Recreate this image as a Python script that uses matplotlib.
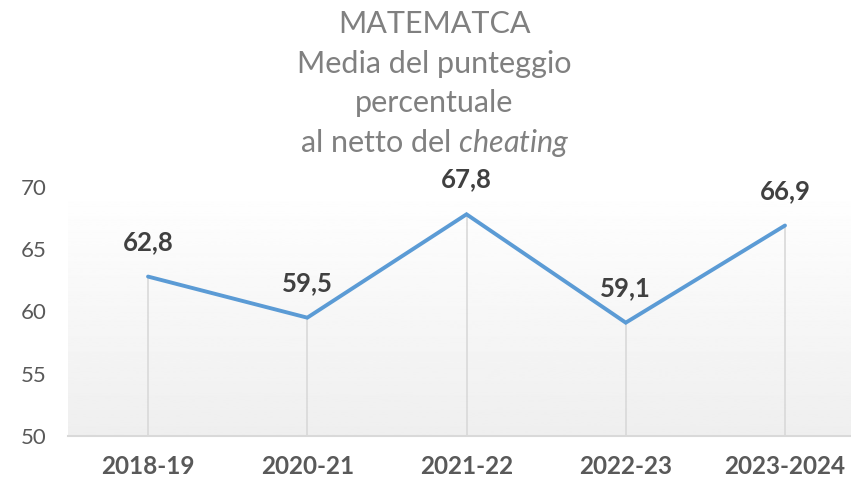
import numpy as np
import matplotlib
matplotlib.use("Agg")
import matplotlib.pyplot as plt

years = ["2018-19", "2020-21", "2021-22", "2022-23", "2023-2024"]
scores = [62.8, 59.5, 67.8, 59.1, 66.9]
y_ticks = [50, 55, 60, 65, 70]

plt.rcParams["font.family"] = ["Lato", "DejaVu Sans"]
plt.rcParams["mathtext.fontset"] = "custom"
plt.rcParams["mathtext.rm"] = "Lato"
plt.rcParams["mathtext.it"] = "Lato:italic"

fig = plt.figure(figsize=(8.51, 4.79), dpi=100)
ax = fig.add_axes([0.0804, 0.0898, 0.9356, 0.52])

x = np.arange(len(years))
ax.set_xlim(-0.5, len(years) - 0.5)
ax.set_ylim(50, 70)

# plot area gradient, white on top to light gray at the bottom
grad = np.linspace(1.0, 0.935, 256).reshape(-1, 1)
ax.imshow(grad, cmap="gray", vmin=0, vmax=1, aspect="auto",
          extent=[-0.5, len(years) - 0.5, 50, 70], origin="upper", zorder=0)

# drop lines
ax.vlines(x, 50, scores, color="#d9d9d9", lw=1.2, zorder=1)
ax.plot(x, scores, color="#5b9bd5", lw=2.8, solid_capstyle="round",
        solid_joinstyle="miter", zorder=2)

for xi, v in zip(x, scores):
    ax.annotate(f"{v:.1f}".replace(".", ","), (xi, v), xytext=(0, 25),
                textcoords="offset points", ha="center", va="center",
                fontsize=18.5, fontweight="bold", color="#404040")

for s in ["top", "right", "left"]:
    ax.spines[s].set_visible(False)
ax.spines["bottom"].set_color("#d9d9d9")
ax.spines["bottom"].set_linewidth(1.5)

ax.set_yticks(y_ticks)
ax.set_xticks(x)
ax.set_xticklabels(years, fontweight="bold", fontsize=17.5, color="#595959")
ax.tick_params(axis="y", length=0, labelsize=16, labelcolor="#595959", pad=16)
ax.tick_params(axis="x", length=0, pad=14)

title_lines = ["MATEMATCA", "Media del punteggio", "percentuale",
               r"al netto del $cheating$"]
for i, line in enumerate(title_lines):
    fig.text(0.5105, 1 - (24 + 39.5 * i) / 479, line, ha="center", va="center",
             fontsize=22, color="#808080")

fig.savefig("out.png", dpi=100)
